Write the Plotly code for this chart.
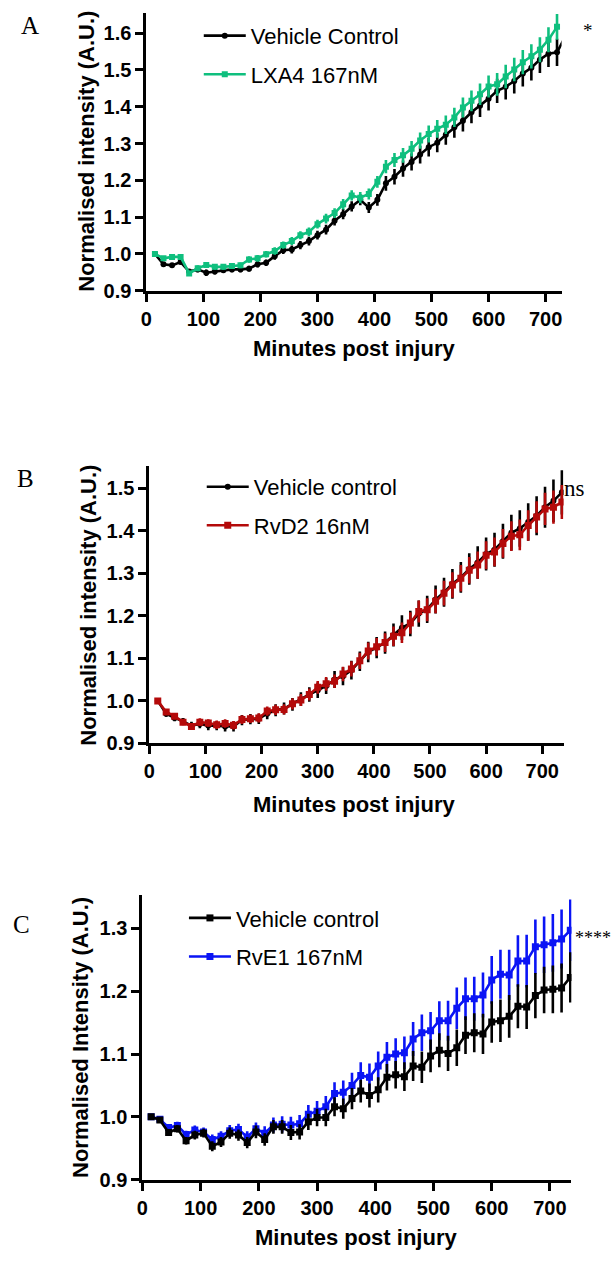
import plotly.graph_objects as go

# ---------------- DATA ----------------
minutes_49 = [15, 30, 45, 60, 75, 90, 105, 120, 135, 150, 165, 180, 195, 210, 225, 240,
              255, 270, 285, 300, 315, 330, 345, 360, 375, 390, 405, 420, 435, 450, 465,
              480, 495, 510, 525, 540, 555, 570, 585, 600, 615, 630, 645, 660, 675, 690,
              705, 720, 735]
minutes_48 = [15, 30, 45, 60, 75, 90, 105, 120, 135, 150, 165, 180, 195, 210, 225, 240,
              255, 270, 285, 300, 315, 330, 345, 360, 375, 390, 405, 420, 435, 450, 465,
              480, 495, 510, 525, 540, 555, 570, 585, 600, 615, 630, 645, 660, 675, 690,
              705, 720]

# Panel A
a_vehicle = [1.000, 0.972, 0.969, 0.978, 0.952, 0.958, 0.949, 0.952, 0.956, 0.958, 0.958,
             0.960, 0.972, 0.976, 0.994, 1.010, 1.012, 1.024, 1.035, 1.051, 1.066, 1.090,
             1.108, 1.129, 1.147, 1.126, 1.147, 1.192, 1.210, 1.232, 1.250, 1.270, 1.290,
             1.302, 1.324, 1.344, 1.362, 1.385, 1.403, 1.422, 1.443, 1.454, 1.470, 1.490,
             1.506, 1.528, 1.544, 1.548, 1.592]
a_vehicle_err = [0.004, 0.006, 0.006, 0.006, 0.007, 0.008, 0.009, 0.008, 0.008, 0.008, 0.008,
                 0.008, 0.009, 0.009, 0.010, 0.010, 0.011, 0.011, 0.012, 0.012, 0.013, 0.013,
                 0.014, 0.014, 0.015, 0.015, 0.016, 0.020, 0.021, 0.022, 0.023, 0.024, 0.025,
                 0.026, 0.027, 0.028, 0.029, 0.030, 0.031, 0.032, 0.033, 0.034, 0.034, 0.035,
                 0.035, 0.036, 0.036, 0.037, 0.038]
a_lxa4 = [1.000, 0.988, 0.992, 0.992, 0.947, 0.961, 0.970, 0.965, 0.965, 0.967, 0.969, 0.985,
          0.988, 0.999, 1.008, 1.024, 1.035, 1.051, 1.060, 1.081, 1.096, 1.111, 1.135, 1.159,
          1.153, 1.163, 1.196, 1.237, 1.255, 1.268, 1.286, 1.308, 1.326, 1.340, 1.351, 1.371,
          1.398, 1.416, 1.434, 1.455, 1.461, 1.482, 1.501, 1.521, 1.537, 1.555, 1.582, 1.617]
a_lxa4_err = [0.004, 0.006, 0.006, 0.006, 0.007, 0.008, 0.008, 0.008, 0.008, 0.008, 0.008,
              0.009, 0.009, 0.009, 0.010, 0.010, 0.011, 0.011, 0.012, 0.012, 0.013, 0.013,
              0.014, 0.014, 0.015, 0.015, 0.016, 0.018, 0.019, 0.020, 0.021, 0.022, 0.023,
              0.024, 0.025, 0.026, 0.027, 0.028, 0.029, 0.030, 0.031, 0.032, 0.032, 0.033,
              0.033, 0.034, 0.034, 0.035]

# Panel B
b_vehicle = [1.000, 0.970, 0.960, 0.952, 0.942, 0.946, 0.942, 0.942, 0.940, 0.940, 0.955,
             0.957, 0.958, 0.970, 0.978, 0.982, 0.992, 1.004, 1.015, 1.025, 1.035, 1.050,
             1.058, 1.072, 1.093, 1.115, 1.125, 1.137, 1.155, 1.172, 1.182, 1.205, 1.215,
             1.238, 1.255, 1.275, 1.290, 1.310, 1.325, 1.345, 1.355, 1.375, 1.395, 1.405,
             1.420, 1.435, 1.455, 1.470, 1.490]
b_vehicle_err = [0.004, 0.007, 0.008, 0.008, 0.009, 0.010, 0.011, 0.011, 0.012, 0.012, 0.012,
                 0.012, 0.012, 0.013, 0.014, 0.014, 0.015, 0.016, 0.017, 0.018, 0.019, 0.020,
                 0.021, 0.022, 0.023, 0.024, 0.025, 0.026, 0.027, 0.029, 0.030, 0.031, 0.032,
                 0.033, 0.034, 0.035, 0.036, 0.037, 0.038, 0.039, 0.040, 0.041, 0.042, 0.043,
                 0.044, 0.046, 0.048, 0.050, 0.052]
b_rvd2 = [1.000, 0.974, 0.964, 0.950, 0.940, 0.950, 0.948, 0.944, 0.947, 0.943, 0.956, 0.958,
          0.960, 0.976, 0.979, 0.980, 0.993, 1.002, 1.015, 1.032, 1.040, 1.046, 1.063, 1.075,
          1.094, 1.117, 1.127, 1.137, 1.152, 1.160, 1.183, 1.210, 1.214, 1.234, 1.253, 1.272,
          1.288, 1.307, 1.319, 1.342, 1.350, 1.370, 1.387, 1.390, 1.412, 1.432, 1.451, 1.455,
          1.467]
b_rvd2_err = [0.004, 0.006, 0.007, 0.007, 0.008, 0.009, 0.009, 0.010, 0.010, 0.010, 0.010,
              0.010, 0.011, 0.011, 0.012, 0.012, 0.013, 0.014, 0.014, 0.015, 0.016, 0.016,
              0.017, 0.018, 0.019, 0.020, 0.021, 0.022, 0.023, 0.024, 0.025, 0.026, 0.027,
              0.028, 0.029, 0.030, 0.031, 0.031, 0.032, 0.033, 0.034, 0.034, 0.035, 0.036,
              0.036, 0.037, 0.038, 0.039, 0.040]

# Panel C
c_vehicle = [1.000, 0.995, 0.975, 0.981, 0.962, 0.971, 0.974, 0.953, 0.960, 0.974, 0.971,
             0.959, 0.976, 0.964, 0.984, 0.984, 0.975, 0.976, 0.992, 0.999, 0.999, 1.016,
             1.013, 1.029, 1.041, 1.034, 1.043, 1.063, 1.067, 1.064, 1.081, 1.079, 1.097,
             1.106, 1.101, 1.110, 1.130, 1.134, 1.132, 1.151, 1.153, 1.160, 1.176, 1.175,
             1.193, 1.202, 1.203, 1.205, 1.222]
c_vehicle_err = [0.002, 0.004, 0.005, 0.006, 0.006, 0.007, 0.007, 0.008, 0.008, 0.009, 0.009,
                 0.009, 0.010, 0.010, 0.011, 0.011, 0.012, 0.012, 0.013, 0.014, 0.014, 0.015,
                 0.016, 0.017, 0.018, 0.019, 0.020, 0.021, 0.022, 0.023, 0.024, 0.025, 0.026,
                 0.027, 0.028, 0.029, 0.030, 0.031, 0.032, 0.033, 0.034, 0.034, 0.035, 0.035,
                 0.036, 0.037, 0.038, 0.039, 0.040]
c_rve1 = [1.000, 0.996, 0.983, 0.986, 0.972, 0.979, 0.976, 0.964, 0.969, 0.978, 0.980, 0.968,
          0.981, 0.974, 0.987, 0.988, 0.987, 0.989, 1.004, 1.009, 1.016, 1.037, 1.039, 1.050,
          1.066, 1.063, 1.081, 1.095, 1.100, 1.102, 1.124, 1.134, 1.137, 1.153, 1.153, 1.173,
          1.188, 1.188, 1.194, 1.218, 1.227, 1.226, 1.248, 1.248, 1.271, 1.274, 1.277, 1.283,
          1.297]
c_rve1_err = [0.002, 0.004, 0.005, 0.006, 0.006, 0.007, 0.007, 0.008, 0.008, 0.009, 0.009,
              0.009, 0.010, 0.011, 0.012, 0.013, 0.013, 0.014, 0.015, 0.016, 0.017, 0.018,
              0.019, 0.020, 0.021, 0.022, 0.023, 0.024, 0.025, 0.026, 0.027, 0.029, 0.030,
              0.031, 0.032, 0.033, 0.034, 0.035, 0.036, 0.038, 0.039, 0.040, 0.041, 0.042,
              0.043, 0.045, 0.046, 0.047, 0.049]

x_ticks = [0, 100, 200, 300, 400, 500, 600, 700]
a_y_ticks = [0.9, 1.0, 1.1, 1.2, 1.3, 1.4, 1.5, 1.6]
b_y_ticks = [0.9, 1.0, 1.1, 1.2, 1.3, 1.4, 1.5]
c_y_ticks = [0.9, 1.0, 1.1, 1.2, 1.3]

# ---------------- STYLE ----------------
W, H = 613, 1262
SANS = "Liberation Sans, Arial, sans-serif"
SERIF = "Liberation Serif, Times New Roman, serif"
BLACK = "#000000"
GREEN = "#0FBF7E"
RED = "#B40A0A"
BLUE = "#0A14F5"


def px_x(p):
    return p / W


def px_y(p):
    return 1 - p / H


fig = go.Figure()


def add_series(x, y, err, name, color, symbol, msize, xa, ya, legend, rank):
    fig.add_trace(go.Scatter(
        x=x, y=y, name=name, mode="lines+markers",
        line=dict(color=color, width=2.6),
        marker=dict(color=color, symbol=symbol, size=msize),
        error_y=dict(type="data", array=err, visible=True, color=color,
                     thickness=2.6, width=0),
        xaxis=xa, yaxis=ya, legend=legend, legendgroup=name + legend,
        legendrank=rank, cliponaxis=True,
    ))


# Panel A
add_series(minutes_49, a_vehicle, a_vehicle_err, "Vehicle Control", BLACK, "circle", 6,
           "x", "y", "legend", 1)
add_series(minutes_48, a_lxa4, a_lxa4_err, "LXA4 167nM", GREEN, "square", 6,
           "x", "y", "legend", 2)
# Panel B
add_series(minutes_49, b_vehicle, b_vehicle_err, "Vehicle control", BLACK, "circle", 6,
           "x2", "y2", "legend2", 1)
add_series(minutes_49, b_rvd2, b_rvd2_err, "RvD2 16nM", RED, "square", 7,
           "x2", "y2", "legend2", 2)
# Panel C (blue drawn first, vehicle on top)
add_series(minutes_49, c_rve1, c_rve1_err, "RvE1 167nM", BLUE, "square", 7,
           "x3", "y3", "legend3", 2)
add_series(minutes_49, c_vehicle, c_vehicle_err, "Vehicle control", BLACK, "square", 7,
           "x3", "y3", "legend3", 1)

axis_common = dict(showline=True, linewidth=3, linecolor=BLACK, ticks="outside",
                   ticklen=8, tickwidth=3, tickcolor=BLACK, showgrid=False,
                   zeroline=False, mirror=False,
                   tickfont=dict(family=SANS, size=20, color=BLACK, weight="bold"))

panels = [
    # (xaxis key, yaxis key, x domain px, y domain px, x range, y range, y ticks)
    ("xaxis", "yaxis", (142, 562), (293.3, 13), [0, 728], [0.9, 1.655], a_y_ticks, "y", "x"),
    ("xaxis2", "yaxis2", (145, 564), (750, 470), [0, 738], [0.9, 1.552], b_y_ticks, "y2", "x2"),
    ("xaxis3", "yaxis3", (138, 572), (1190, 903), [0, 737], [0.9, 1.353], c_y_ticks, "y3", "x3"),
]
layout_axes = {}
for xk, yk, xd, yd, xr, yr, yt, yanchor, xanchor in panels:
    layout_axes[xk] = dict(axis_common, domain=[px_x(xd[0]), px_x(xd[1])], range=xr,
                           tickvals=x_ticks, anchor=yanchor)
    layout_axes[yk] = dict(axis_common, domain=[px_y(yd[0]), px_y(yd[1])], range=yr,
                           tickvals=yt, tickformat=".1f", anchor=xanchor)

legend_common = dict(bgcolor="rgba(0,0,0,0)", borderwidth=0, xanchor="left", yanchor="top",
                     font=dict(family=SANS, size=22, color=BLACK), itemwidth=42,
                     tracegroupgap=7, traceorder="grouped")

fig.update_layout(
    width=W, height=H, margin=dict(l=0, r=0, t=0, b=0),
    paper_bgcolor="white", plot_bgcolor="white", showlegend=True,
    legend=dict(legend_common, x=px_x(195), y=px_y(15)),
    legend2=dict(legend_common, x=px_x(198), y=px_y(470)),
    legend3=dict(legend_common, x=px_x(180), y=px_y(905)),
    **layout_axes,
)

annotations = []


def ann(text, x, y, size, family=SANS, weight="bold", angle=0, xanchor="center"):
    annotations.append(dict(text=text, x=px_x(x), y=px_y(y), xref="paper", yref="paper",
                            showarrow=False, textangle=angle, xanchor=xanchor,
                            yanchor="middle",
                            font=dict(family=family, size=size, color=BLACK, weight=weight)))


# axis titles
ann("Normalised intensity (A.U.)", 82, 153, 22, angle=-90)
ann("Normalised intensity (A.U.)", 84, 611, 22, angle=-90)
ann("Normalised Intensity (A.U.)", 76, 1047, 22, angle=-90)
ann("Minutes post injury", 352, 352, 22)
ann("Minutes post injury", 352, 812, 22)
ann("Minutes post injury", 354, 1248, 22)
# panel letters
ann("A", 24, 26, 25, family=SERIF, weight="normal")
ann("B", 20, 483, 25, family=SERIF, weight="normal")
ann("C", 16, 933, 25, family=SERIF, weight="normal")
# significance marks
ann("*", 589, 31, 19, family=SERIF, weight="normal")
ann("ns", 575, 493, 23, family=SERIF, weight="normal")
ann("****", 574, 946, 18, family=SERIF, weight="normal", xanchor="left")

fig.update_layout(annotations=annotations)

fig.write_html("out.html")
